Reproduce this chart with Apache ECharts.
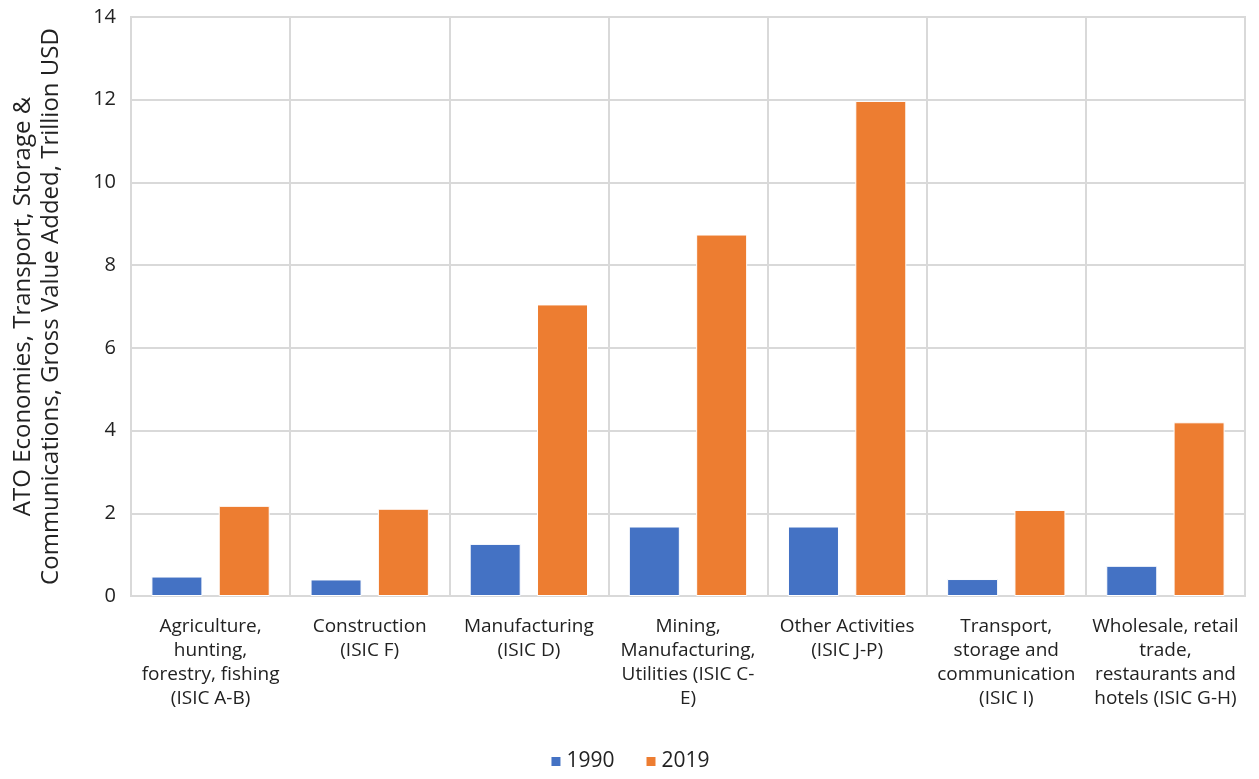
<!DOCTYPE html>
<html>
<head>
<meta charset="utf-8">
<script src="https://cdn.jsdelivr.net/npm/echarts@6/dist/echarts.min.js"></script>
<style>
  html, body { margin: 0; padding: 0; background: #fff; }
  #chart { width: 1259px; height: 779px; }
</style>
</head>
<body>
<div id="chart"></div>
<script>
// Sector labels, wrapped as they appear under the axis
const categories = [
  'Agriculture,\nhunting,\nforestry, fishing\n(ISIC A-B)',
  'Construction\n(ISIC F)',
  'Manufacturing\n(ISIC D)',
  'Mining,\nManufacturing,\nUtilities (ISIC C-\nE)',
  'Other Activities\n(ISIC J-P)',
  'Transport,\nstorage and\ncommunication\n(ISIC I)',
  'Wholesale, retail\ntrade,\nrestaurants and\nhotels (ISIC G-H)'
];

// Gross value added, trillion USD
const values1990 = [0.47, 0.40, 1.26, 1.68, 1.68, 0.41, 0.73];
const values2019 = [2.18, 2.11, 7.05, 8.74, 11.97, 2.08, 4.20];

const seriesNames = ['1990', '2019'];
const yTicks = { min: 0, max: 14, interval: 2 };

const FONT = '"Open Sans", "Noto Sans", sans-serif';
const GRID = '#d9d9d9';

const chart = echarts.init(document.getElementById('chart'), null, { renderer: 'canvas' });

chart.setOption({
  animation: false,
  textStyle: { fontFamily: FONT },
  grid: {
    left: 131, right: 14, top: 17, bottom: 183,
    containLabel: false,
    outerBoundsMode: 'none',
    show: true, borderColor: GRID, borderWidth: 2
  },
  legend: {
    bottom: 2,
    left: 'center',
    itemWidth: 11,
    itemHeight: 11,
    itemGap: 30,
    icon: 'rect',
    textStyle: { fontSize: 21, color: '#222', fontFamily: FONT },
    data: seriesNames
  },
  xAxis: {
    type: 'category',
    data: categories,
    axisTick: { show: false },
    axisLine: { lineStyle: { color: GRID, width: 2 } },
    splitLine: { show: true, lineStyle: { color: GRID, width: 2 } },
    axisLabel: {
      interval: 0,
      margin: 19,
      fontSize: 19,
      lineHeight: 24,
      color: '#222',
      align: 'center'
    }
  },
  yAxis: {
    type: 'value',
    min: yTicks.min,
    max: yTicks.max,
    interval: yTicks.interval,
    name: 'ATO Economies, Transport, Storage &\nCommunications, Gross Value Added, Trillion USD',
    nameLocation: 'middle',
    nameGap: 66,
    nameTextStyle: { fontSize: 24, lineHeight: 28, color: '#222', fontFamily: FONT },
    axisLine: { show: false },
    axisTick: { show: false },
    splitLine: { lineStyle: { color: GRID, width: 2 } },
    axisLabel: { fontSize: 20, color: '#222', margin: 15 }
  },
  series: [
    {
      name: seriesNames[0],
      type: 'bar',
      data: values1990,
      barWidth: 51,
      barGap: '32%',
      itemStyle: { color: '#4472C4', borderColor: '#fff', borderWidth: 1 }
    },
    {
      name: seriesNames[1],
      type: 'bar',
      data: values2019,
      barWidth: 51,
      itemStyle: { color: '#ED7D31', borderColor: '#fff', borderWidth: 1 }
    }
  ]
});
</script>
</body>
</html>
